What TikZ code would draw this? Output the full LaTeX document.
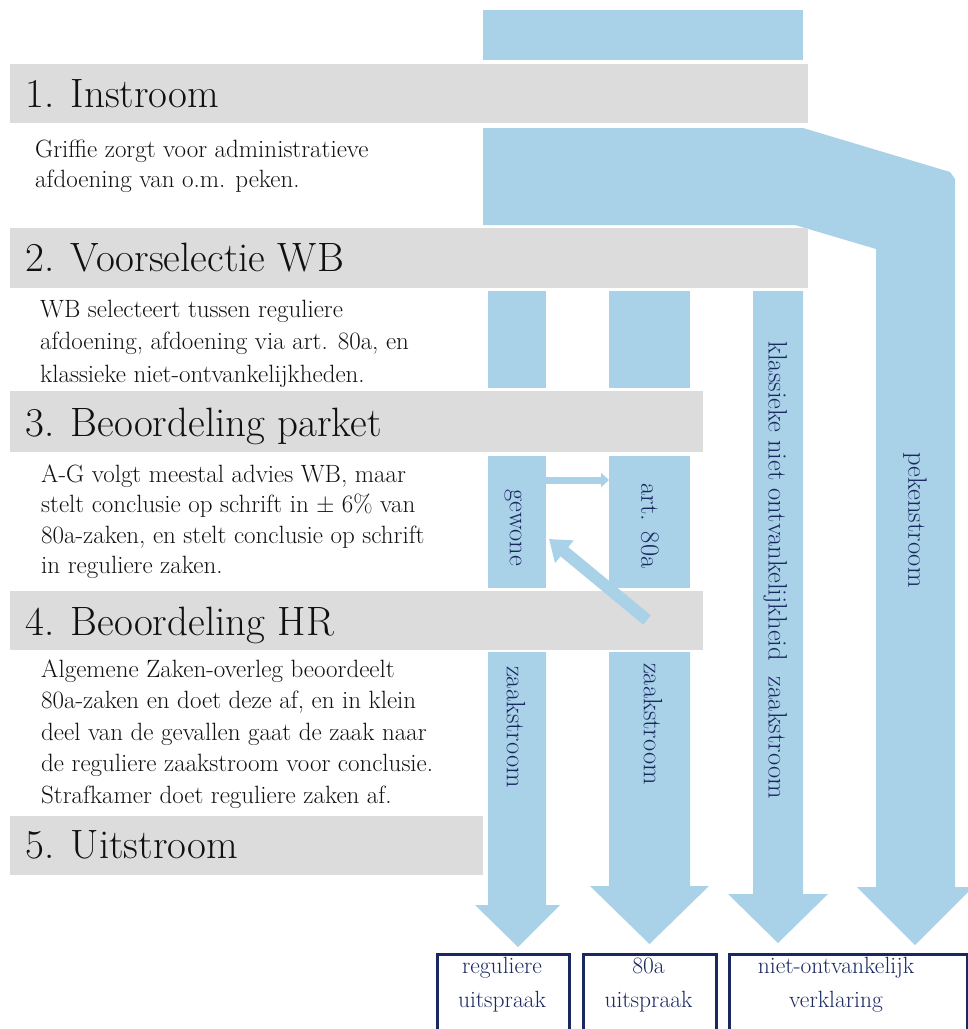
\documentclass[tikz,border=0pt]{standalone}
\usepackage{fontspec}
\usetikzlibrary{arrows.meta}
\definecolor{flowblue}{HTML}{A9D1E8}
\definecolor{bargray}{HTML}{DCDCDC}
\definecolor{navy}{HTML}{1A2860}
\definecolor{ink}{HTML}{111111}
\begin{document}
\begin{tikzpicture}[x=1pt,y=-1pt,
  flow/.style={fill=flowblue, draw=none},
  bar/.style={fill=bargray, draw=none},
  seg/.style={fill=flowblue, draw=none, inner sep=0pt, outer sep=0pt, rectangle},
  title/.style={anchor=base west, inner sep=0pt, text=ink, font=\fontsize{41}{43}\selectfont},
  body/.style={anchor=north west, inner sep=0pt, align=left, text=ink},
  colabel/.style={rotate=-90, inner sep=0pt, text=navy, font=\fontsize{26.5}{28}\selectfont},
  outbox/.style={draw=navy, line width=2.6pt, fill=none, inner sep=0pt, anchor=north west, rectangle},
  boxtxt/.style={anchor=north, inner sep=0pt, align=center, text=navy, font=\fontsize{23.5}{34}\selectfont},
  smallconn/.style={draw=flowblue, line width=7pt, -{Triangle[width=14pt,length=8pt]}},
  bigconn/.style={draw=flowblue, line width=12pt, -{Triangle[width=28pt,length=20pt]}}
]
\useasboundingbox (0,0) rectangle (968,1029);
\fill[white] (0,0) rectangle (968,1029);

% ---- blue flows ----
\node[seg, minimum width=320pt, minimum height=50pt] (top) at (643,35) {};
\fill[flow] (483,128) -- (803,128) -- (950,172) -- (955,179) -- (955,887)
  -- (973,887) -- (915,945) -- (857,887) -- (876,887) -- (876,249)
  -- (795,225) -- (483,225) -- cycle;
% column 1
\node[seg, minimum width=58pt, minimum height=97pt] (c1a) at (517,339.5) {};
\node[seg, minimum width=58pt, minimum height=132pt] (c1b) at (517,522) {};
\fill[flow] (488,652) -- (546,652) -- (546,905) -- (560,905) -- (518,947)
  -- (475,905) -- (488,905) -- cycle;
% column 2
\node[seg, minimum width=81pt, minimum height=97pt] (c2a) at (649.5,339.5) {};
\node[seg, minimum width=81pt, minimum height=132pt] (c2b) at (649.5,522) {};
\fill[flow] (609,652) -- (690,652) -- (690,886) -- (709,886) -- (649.5,944)
  -- (590,886) -- (609,886) -- cycle;
% column 3
\fill[flow] (753,291) -- (803,291) -- (803,894) -- (828,894) -- (778,943)
  -- (728,894) -- (753,894) -- cycle;

% ---- gray bars ----
\fill[bar] (10,64) rectangle (808,123);
\fill[bar] (10,228) rectangle (808,288);
\fill[bar] (10,391) rectangle (703,452);
\fill[bar] (10,591) rectangle (703,650);
\fill[bar] (10,816) rectangle (483,875);

% ---- titles ----
\node[title] (t1) at (25,107) {1. Instroom};
\node[title] (t2) at (25,271) {2. Voorselectie WB};
\node[title] (t3) at (25,436) {3. Beoordeling parket};
\node[title] (t4) at (25,635) {4. Beoordeling HR};
\node[title] (t5) at (25,858) {5. Uitstroom};

% ---- body texts ----
\node[body, font=\fontsize{25}{30.5}\selectfont] (b1) at (35,139.6)
  {Griffie zorgt voor administratieve\\afdoening van o.m. peken.};
\node[body, font=\fontsize{25}{32.5}\selectfont] (b2) at (40,299.6)
  {WB selecteert tussen reguliere\\afdoening, afdoening via art. 80a, en\\klassieke niet-ontvankelijkheden.};
\node[body, font=\fontsize{25}{30.5}\selectfont] (b3) at (41,464.6)
  {A-G volgt meestal advies WB, maar\\stelt conclusie op schrift in ± 6\% van\\80a-zaken, en stelt conclusie op schrift\\in reguliere zaken.};
\node[body, font=\fontsize{25}{31.5}\selectfont] (b4) at (41,659.6)
  {Algemene Zaken-overleg beoordeelt\\80a-zaken en doet deze af, en in klein\\deel van de gevallen gaat de zaak naar\\de reguliere zaakstroom voor conclusie.\\Strafkamer doet reguliere zaken af.};

% ---- column labels ----
\node[colabel] (l1) at (513,528) {gewone};
\node[colabel] (l2) at (650,526) {art. 80a};
\node[colabel] (l3) at (516,727) {zaakstroom};
\node[colabel] (l4) at (653,724) {zaakstroom};
\node[colabel] (l5) at (775,570) {klassieke niet ontvankelijkheid\hspace{0.6em}zaakstroom};
\node[colabel] (l6) at (915,520) {pekenstroom};

% ---- connectors between columns ----
\coordinate (d0) at (647,620);
\draw[smallconn] ([yshift=-24pt]c1b.north east) -- ([yshift=-24pt]c2b.north west);
\draw[bigconn] (d0) -- ([xshift=3pt,yshift=-83pt]c1b.north east);

% ---- output boxes ----
\node[outbox, minimum width=132pt, minimum height=100pt] (o1) at (436,953) {};
\node[outbox, minimum width=133pt, minimum height=100pt] (o2) at (582,953) {};
\node[outbox, minimum width=238pt, minimum height=100pt] (o3) at (728,953) {};
\node[boxtxt] (o1t) at (502,956.7) {reguliere\\uitspraak};
\node[boxtxt] (o2t) at (648.5,957.4) {80a\\uitspraak};
\node[boxtxt] (o3t) at (836,956.7) {niet-ontvankelijk\\verklaring};
\end{tikzpicture}
\end{document}
